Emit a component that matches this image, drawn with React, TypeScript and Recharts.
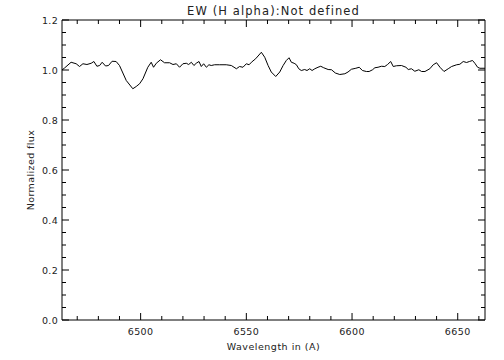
import { LineChart, Line, XAxis, YAxis, Label } from "recharts";

// wavelength (A) and normalized flux
const WAVE = [
  6462.8, 6464.0, 6467.1, 6469.5, 6471.1, 6472.7, 6474.6, 6476.6, 6477.9, 6479.3,
  6480.6, 6481.8, 6483.4, 6484.8, 6486.5, 6488.4, 6490.0, 6493.2, 6496.3, 6497.9,
  6499.5, 6501.1, 6503.4, 6505.0, 6506.1, 6507.4, 6509.4, 6511.3, 6513.7, 6515.3,
  6516.9, 6518.4, 6520.0, 6521.6, 6522.7, 6524.0, 6525.2, 6526.3, 6527.6, 6528.7,
  6529.8, 6531.1, 6532.3, 6533.4, 6535.0, 6537.4, 6540.5, 6542.9, 6545.3, 6546.8,
  6548.4, 6550.0, 6551.3, 6552.4, 6554.4, 6557.1, 6558.7, 6560.3, 6561.8, 6563.9,
  6565.8, 6567.4, 6568.9, 6570.2, 6571.3, 6572.6, 6573.7, 6574.8, 6576.0, 6577.6,
  6578.7, 6580.0, 6581.1, 6582.4, 6583.9, 6585.2, 6586.6, 6588.7, 6590.3, 6592.1,
  6594.2, 6596.6, 6598.1, 6599.7, 6601.8, 6603.4, 6604.9, 6606.8, 6608.1, 6609.7,
  6610.8, 6612.3, 6613.9, 6615.5, 6616.8, 6618.3, 6619.5, 6621.0, 6623.4, 6625.5,
  6626.6, 6628.1, 6629.7, 6631.6, 6632.9, 6634.5, 6636.8, 6638.4, 6640.0, 6641.6,
  6643.5, 6645.5, 6647.1, 6649.5, 6651.0, 6652.6, 6654.2, 6655.5, 6657.0, 6658.1,
  6659.4, 6660.5, 6662.9,
];

const FLUX = [
  1.000, 1.008, 1.031, 1.025, 1.014, 1.025, 1.022, 1.027, 1.034, 1.015,
  1.018, 1.031, 1.016, 1.018, 1.035, 1.034, 1.018, 0.958, 0.925, 0.934,
  0.945, 0.965, 1.011, 1.031, 1.011, 1.027, 1.041, 1.029, 1.029, 1.022,
  1.025, 1.011, 1.025, 1.027, 1.022, 1.031, 1.018, 1.027, 1.034, 1.014,
  1.025, 1.011, 1.021, 1.018, 1.021, 1.021, 1.021, 1.018, 1.005, 1.014,
  1.011, 1.025, 1.021, 1.031, 1.045, 1.071, 1.051, 1.018, 0.992, 0.974,
  0.992, 1.018, 1.038, 1.049, 1.031, 1.027, 1.021, 1.005, 0.998, 1.002,
  0.998, 1.005, 0.998, 1.005, 1.011, 1.015, 1.009, 1.002, 1.001, 0.988,
  0.982, 0.985, 0.992, 1.003, 1.007, 1.011, 0.998, 0.994, 0.994, 1.001,
  1.009, 1.011, 1.015, 1.014, 1.022, 1.034, 1.014, 1.017, 1.018, 1.011,
  1.002, 1.005, 0.995, 1.001, 0.994, 0.994, 1.005, 1.021, 1.029, 1.011,
  0.994, 1.005, 1.014, 1.021, 1.023, 1.034, 1.030, 1.034, 1.038, 1.027,
  1.011, 1.007, 1.007,
];

const X_MAJOR = [6500, 6550, 6600, 6650];
const X_TICKS = [
  6470, 6480, 6490, 6500, 6510, 6520, 6530, 6540, 6550, 6560,
  6570, 6580, 6590, 6600, 6610, 6620, 6630, 6640, 6650, 6660,
];
const Y_MAJOR = [0, 0.2, 0.4, 0.6, 0.8, 1.0, 1.2];
const Y_TICKS = [
  0, 0.05, 0.1, 0.15, 0.2, 0.25, 0.3, 0.35, 0.4, 0.45, 0.5, 0.55, 0.6,
  0.65, 0.7, 0.75, 0.8, 0.85, 0.9, 0.95, 1.0, 1.05, 1.1, 1.15, 1.2,
];

const TITLE = "EW (H alpha):Not defined";
const X_LABEL = "Wavelength in (A)";
const Y_LABEL = "Normalized flux";

const FONT = "'DejaVu Sans', sans-serif";
const INK = "#222";
const MAJOR_LEN = 7;
const MINOR_LEN = 4;
const X_DOMAIN = [6462.8, 6662.9];
const Y_DOMAIN = [0, 1.2];

const data = WAVE.map((w, i) => ({ w, f: FLUX[i] }));

function BottomTick({ x, y, payload }: any) {
  const major = X_MAJOR.includes(payload.value);
  return (
    <g>
      <line x1={x} x2={x} y1={y} y2={y - (major ? MAJOR_LEN : MINOR_LEN)} stroke="#000" />
      {major && (
        <text x={x} y={y + 15} textAnchor="middle" fontFamily={FONT} fontSize={9.5} fill={INK} letterSpacing={0.4}>
          {payload.value}
        </text>
      )}
    </g>
  );
}

function TopTick({ x, y, payload }: any) {
  const major = X_MAJOR.includes(payload.value);
  return <line x1={x} x2={x} y1={y} y2={y + (major ? MAJOR_LEN : MINOR_LEN)} stroke="#000" />;
}

function LeftTick({ x, y, payload }: any) {
  const major = Y_MAJOR.includes(payload.value);
  return (
    <g>
      <line x1={x} x2={x + (major ? MAJOR_LEN : MINOR_LEN)} y1={y} y2={y} stroke="#000" />
      {major && (
        <text x={x - 4} y={y + 3.5} textAnchor="end" fontFamily={FONT} fontSize={9.5} fill={INK} letterSpacing={0.3}>
          {payload.value.toFixed(1)}
        </text>
      )}
    </g>
  );
}

function RightTick({ x, y, payload }: any) {
  const major = Y_MAJOR.includes(payload.value);
  return <line x1={x} x2={x - (major ? MAJOR_LEN : MINOR_LEN)} y1={y} y2={y} stroke="#000" />;
}

export default function App() {
  return (
    <div style={{ position: "absolute", left: 0, top: 0, width: 504, height: 360, background: "#fff" }}>
      <LineChart width={504} height={360} data={data} margin={{ top: 19, right: 18, bottom: 10, left: 22 }}>
        <XAxis
          dataKey="w"
          type="number"
          domain={X_DOMAIN}
          allowDataOverflow
          ticks={X_TICKS}
          interval={0}
          height={30}
          tickSize={0}
          tickMargin={0}
          tickLine={false}
          axisLine={{ stroke: "#000" }}
          tick={<BottomTick />}
        >
          <Label
            content={({ viewBox }: any) => (
              <text x={viewBox.x + viewBox.width / 2} y={350} textAnchor="middle" fontFamily={FONT} fontSize={9.5} fill={INK} letterSpacing={0.5}>
                {X_LABEL}
              </text>
            )}
          />
        </XAxis>
        <XAxis
          xAxisId="top"
          orientation="top"
          dataKey="w"
          type="number"
          domain={X_DOMAIN}
          allowDataOverflow
          ticks={X_TICKS}
          interval={0}
          height={1}
          tickSize={0}
          tickMargin={0}
          tickLine={false}
          axisLine={{ stroke: "#000" }}
          tick={<TopTick />}
        >
          <Label
            content={({ viewBox }: any) => (
              <text x={viewBox.x + viewBox.width / 2} y={14.5} textAnchor="middle" fontFamily={FONT} fontSize={11.5} fill={INK} letterSpacing={1.1}>
                {TITLE}
              </text>
            )}
          />
        </XAxis>
        <YAxis
          type="number"
          domain={Y_DOMAIN}
          ticks={Y_TICKS}
          interval={0}
          width={40}
          tickSize={0}
          tickMargin={0}
          tickLine={false}
          axisLine={{ stroke: "#000" }}
          tick={<LeftTick />}
        >
          <Label
            content={() => (
              <text x={34} y={170} transform="rotate(-90 34 170)" textAnchor="middle" fontFamily={FONT} fontSize={9.5} fill={INK} letterSpacing={0.4}>
                {Y_LABEL}
              </text>
            )}
          />
        </YAxis>
        <YAxis
          yAxisId="right"
          orientation="right"
          type="number"
          domain={Y_DOMAIN}
          ticks={Y_TICKS}
          interval={0}
          width={1}
          tickSize={0}
          tickMargin={0}
          tickLine={false}
          axisLine={{ stroke: "#000" }}
          tick={<RightTick />}
        />
        <Line dataKey="f" type="linear" stroke="#000" strokeWidth={1} dot={false} isAnimationActive={false} />
        {/* invisible copy so the top/right frame axes get a domain */}
        <Line xAxisId="top" yAxisId="right" dataKey="f" stroke="none" dot={false} activeDot={false} isAnimationActive={false} />
      </LineChart>
    </div>
  );
}
